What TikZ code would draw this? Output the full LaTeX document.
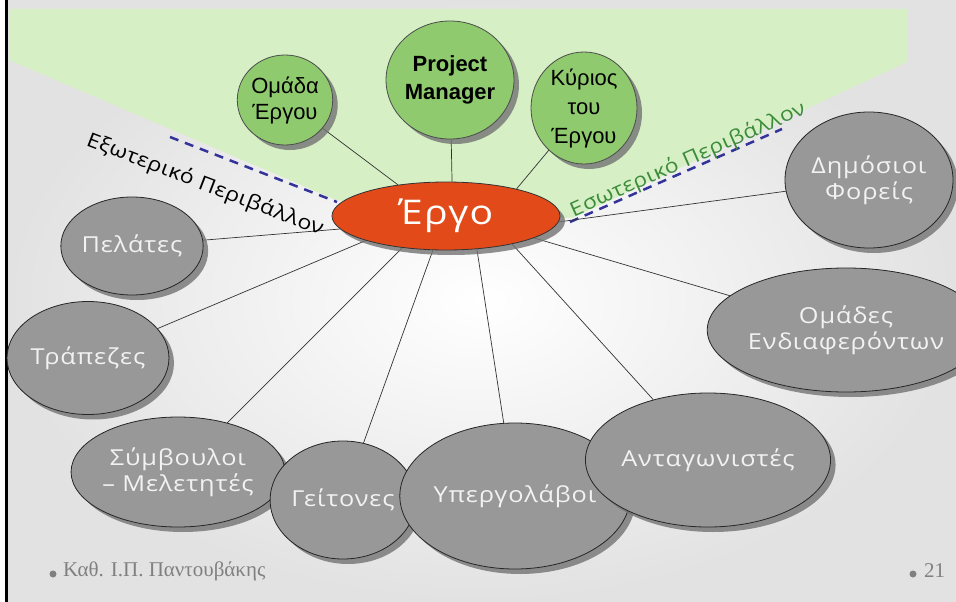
\documentclass[tikz,border=0pt]{standalone}
\usepackage{fontspec}
\newfontfamily\gothic{Open Sans}[FakeStretch=1.15,LetterSpace=4]
\newfontfamily\gothiclab{Open Sans}[FakeStretch=1.15,LetterSpace=2]
\newfontfamily\tahoma{Liberation Sans}
\newfontfamily\footserif{Liberation Serif}
\usetikzlibrary{shapes.geometric,shadows}
\pgfdeclarelayer{bglayer}
\pgfsetlayers{bglayer,main}
\definecolor{greenbg}{RGB}{214,239,196}
\definecolor{greenfill}{RGB}{143,203,110}
\definecolor{orangefill}{RGB}{226,75,25}
\definecolor{grayfill}{RGB}{152,152,152}
\definecolor{graytext}{RGB}{242,242,242}
\definecolor{navydash}{RGB}{51,51,153}
\definecolor{greentext}{RGB}{60,140,60}
\definecolor{footgray}{RGB}{128,128,128}
\tikzset{
  basenode/.style={ellipse, inner sep=0pt, align=center, line width=0.8pt,
    drop shadow={shadow xshift=5pt, shadow yshift=-5pt, fill=black!55, opacity=0.8}},
  graynode/.style={basenode, draw=black!85, fill=grayfill, text=graytext,
    font=\gothic\fontsize{22}{26}\selectfont},
  greennode/.style={basenode, draw=black!70, fill=greenfill, text=black,
    font=\tahoma\fontsize{22}{26}\selectfont},
  ergonode/.style={basenode, draw=black!80, fill=orangefill, text=white,
    font=\gothic\fontsize{34}{38}\selectfont},
  conn/.style={draw=black!80, line width=0.7pt},
  dashline/.style={draw=navydash, line width=2.5pt, dash pattern=on 9pt off 7pt},
  envlabel/.style={font=\gothiclab\fontsize{20}{22}\selectfont, inner sep=0pt},
  footlabel/.style={anchor=west, inner sep=0pt, text=footgray, font=\footserif\fontsize{21}{23}\selectfont},
  bullet/.style={circle, fill=footgray, inner sep=0pt, minimum size=7pt}
}
\begin{document}
\begin{tikzpicture}[x=1pt,y=-1pt]
\useasboundingbox (0,0) rectangle (956,602);
\begin{pgfonlayer}{bglayer}
  \fill[white] (0,0) rectangle (956,602);
  \shade[inner color=white, outer color={rgb,255:red,226;green,226;blue,226}] (6,0) rectangle (956,602);
  \fill[greenbg] (9,9) -- (907,9) -- (907,62) -- (572,218) -- (446,216) -- (336,200) -- (9,60) -- cycle;
  \draw[line width=3pt] (6,0) -- (6,602);
  \coordinate (dl1) at (170,137);
  \coordinate (dl2) at (337,202);
  \coordinate (dr1) at (570,222);
  \coordinate (dr2) at (782,129);
  \draw[dashline] (dl1) -- (dl2);
  \draw[dashline] (dr1) -- (dr2);
\end{pgfonlayer}

% central node
\node[ergonode, minimum width=228pt, minimum height=68pt] (ergo) at (446,216) {Έργο};

% green nodes
\node[greennode, minimum width=88pt, minimum height=90pt] (omada) at (285,100) {Ομάδα\\Έργου};
\node[greennode, minimum width=120pt, minimum height=118pt, font=\tahoma\bfseries\fontsize{22}{28}\selectfont] (pm) at (450,80) {Project\\Manager};
\node[greennode, minimum width=106pt, minimum height=112pt, font=\tahoma\fontsize{22}{29}\selectfont] (kyr) at (584,108) {Κύριος\\του\\Έργου};

% gray nodes
\node[graynode, minimum width=168pt, minimum height=136pt] (dim) at (869,180) {Δημόσιοι\\Φορείς};
\node[graynode, minimum width=210pt, minimum height=124pt] (omend) at (846,330) {Ομάδες\\Ενδιαφερόντων};
\node[graynode, minimum width=142pt, minimum height=98pt] (pel) at (132,246) {Πελάτες};
\node[graynode, minimum width=154pt, minimum height=113pt] (trap) at (88,358) {Τράπεζες};
\node[graynode, minimum width=180pt, minimum height=110pt] (symv) at (178,472) {Σύμβουλοι\\– Μελετητές};
\node[graynode, minimum width=140pt, minimum height=118pt] (geit) at (343,500) {Γείτονες};
\node[graynode, minimum width=170pt, minimum height=146pt] (yperg) at (515,496) {Υπεργολάβοι};
\node[graynode, minimum width=190pt, minimum height=134pt] (antag) at (708,460) {Ανταγωνιστές};

% environment labels
\node[envlabel, text=black, rotate=-21] (extlabel) at (205,185) {Εξωτερικό Περιβάλλον};
\node[envlabel, text=greentext, rotate=24] (intlabel) at (688,160) {Εσωτερικό Περιβάλλον};

% footer
\node[bullet] (b1) at (53,574) {};
\node[footlabel] (foot) at (63,571) {Καθ. Ι.Π. Παντουβάκης};
\node[bullet] (b2) at (913,574) {};
\node[footlabel] (pnum) at (924,571) {21};

% connectors
\begin{pgfonlayer}{bglayer}
  \draw[conn] (ergo.147) -- (omada);
  \draw[conn] (ergo.80) -- (pm);
  \draw[conn] (ergo.21) -- (kyr);
  \draw[conn] (ergo.-3.5) -- (dim);
  \draw[conn] (ergo.-14.6) -- (omend);
  \draw[conn] (ergo.-23.4) -- (antag);
  \draw[conn] (ergo.-47) -- (yperg);
  \draw[conn] (ergo.249) -- (geit);
  \draw[conn] (ergo.216) -- (symv);
  \draw[conn] (ergo.197) -- (trap);
  \draw[conn] (ergo.187) -- (pel);
\end{pgfonlayer}
\end{tikzpicture}
\end{document}
